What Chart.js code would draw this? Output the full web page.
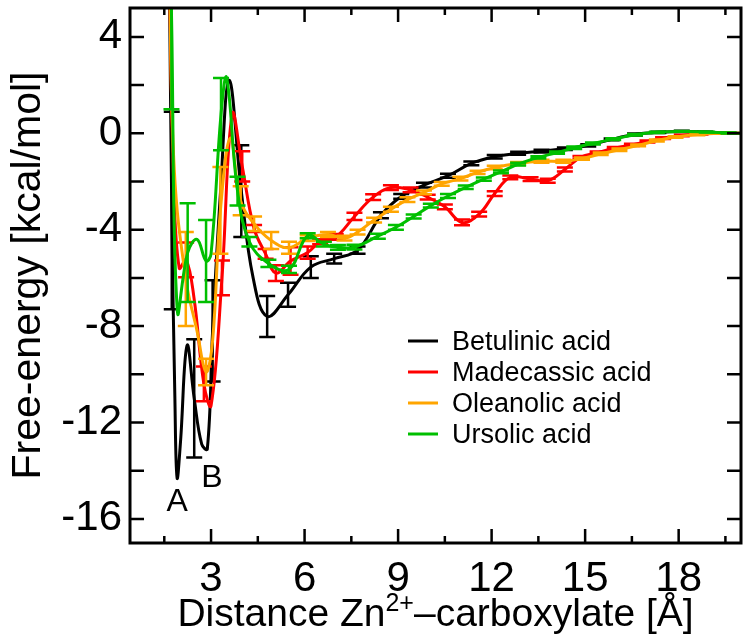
<!DOCTYPE html>
<html>
<head>
<meta charset="utf-8">
<script src="https://cdn.jsdelivr.net/npm/chart.js@4.4.0/dist/chart.umd.min.js"></script>
<style>
  body { margin: 0; background: #fff; }
  canvas { display: block; }
</style>
</head>
<body>
<canvas id="myChart" width="749" height="643"></canvas>
<script>
// series names and colours
var seriesNames = ['Betulinic acid', 'Madecassic acid', 'Oleanolic acid', 'Ursolic acid'];
var seriesColors = ['#000000', '#ff0000', '#ffa500', '#00bf00'];

// Betulinic acid (black)
var betX = [1.66, 1.74, 1.84, 1.91, 2.02, 2.23, 2.46, 2.7, 2.88, 3.05, 3.3, 3.58, 3.97, 4.35, 4.8, 5.47, 6.2, 6.95, 7.7, 8.45, 9.1, 9.83, 10.6, 11.35, 12.1, 12.85, 13.6, 14.35, 15.1, 15.85, 16.6, 17.35, 18.1, 18.85, 19.6, 20];
var betY = [7, -3.2, -11, -14.3, -12.8, -8.8, -11.0, -12.9, -13.1, -8.2, -2.5, 2.2, -2.4, -6.0, -7.6, -6.7, -5.55, -5.2, -4.85, -3.4, -2.62, -2.15, -1.76, -1.25, -0.97, -0.83, -0.74, -0.64, -0.5, -0.25, -0.05, 0.04, 0.08, 0.05, 0.01, 0];
var betE = [null, 4.1, null, null, null, null, 2.45, null, null, 2.1, null, null, 1.9, null, 0.85, 0.5, 0.45, 0.2, 0.15, 0.12, 0.1, 0.1, 0.08, 0.08, 0.07, 0.06, 0.06, 0.05, 0.05, 0.04, 0.04, 0.03, 0.03, 0.02, 0.02, null];

// Madecassic acid (red)
var madX = [1.66, 1.8, 1.98, 2.2, 2.45, 2.77, 3.0, 3.35, 3.68, 4.0, 4.38, 4.75, 5.08, 5.55, 6.1, 6.5, 7.0, 7.6, 8.2, 8.77, 9.4, 9.95, 10.5, 11.05, 11.6, 12.1, 12.6, 13.25, 13.8, 14.35, 14.85, 15.4, 15.95, 16.5, 17.0, 17.5, 18.1, 18.7, 19.3, 20];
var madY = [7, -2, -5.6, -5.25, -6.8, -10.4, -11.3, -6.0, 0.8, -1.37, -3.95, -5.0, -5.8, -5.3, -4.95, -4.5, -4.3, -3.45, -2.65, -2.25, -2.35, -2.65, -3.05, -3.7, -3.35, -2.5, -1.83, -1.9, -1.97, -1.5, -1.0, -0.8, -0.62, -0.48, -0.34, -0.2, -0.09, -0.03, 0.0, 0];
var madE = [null, null, null, 0.72, null, 0.72, null, 0.72, null, 0.63, 0.15, 0.2, 0.33, 0.57, 0.25, 0.1, 0.12, 0.15, 0.12, 0.1, 0.1, 0.1, 0.1, 0.12, 0.1, 0.1, 0.08, 0.08, 0.08, 0.08, 0.06, 0.05, 0.05, 0.05, 0.04, 0.04, 0.03, 0.02, 0.02, null];

// Oleanolic acid (orange)
var oleX = [1.66, 1.82, 2.19, 2.55, 2.84, 3.05, 3.3, 3.62, 3.95, 4.38, 4.93, 5.5, 6.1, 6.75, 7.28, 7.7, 8.23, 8.77, 9.3, 9.83, 10.4, 11.0, 11.55, 12.1, 12.85, 13.6, 14.3, 14.9, 15.5, 16.1, 16.7, 17.3, 17.9, 18.6, 19.3, 20];
var oleY = [7, -1.5, -6.05, -8.2, -9.9, -8.6, -3.2, -0.2, -2.8, -3.75, -4.45, -4.75, -4.35, -4.2, -4.35, -4.1, -3.6, -3.15, -2.75, -2.45, -2.1, -1.88, -1.62, -1.42, -1.25, -1.16, -1.16, -1.05, -0.85, -0.68, -0.5, -0.3, -0.15, -0.05, 0.0, 0];
var oleE = [null, null, 1.95, null, 0.55, null, 1.8, null, 0.6, 0.3, 0.35, 0.25, 0.12, 0.1, 0.1, 0.1, 0.1, 0.1, 0.1, 0.08, 0.08, 0.08, 0.07, 0.07, 0.06, 0.06, 0.06, 0.05, 0.05, 0.05, 0.04, 0.04, 0.03, 0.03, 0.02, null];

// Ursolic acid (green)
var ursX = [1.66, 1.73, 1.92, 2.25, 2.55, 2.84, 3.0, 3.32, 3.5, 3.85, 4.23, 4.84, 5.5, 6.1, 6.62, 7.07, 7.6, 8.35, 8.93, 9.5, 10.05, 10.6, 11.17, 11.75, 12.3, 12.85, 13.5, 14.1, 14.65, 15.25, 15.9, 16.6, 17.3, 18.1, 18.9, 19.6, 20];
var ursY = [9, 5.0, -7.4, -4.95, -4.4, -5.3, -5.0, 0.8, 2.3, -2.4, -4.5, -5.4, -5.65, -4.25, -4.6, -4.73, -4.72, -4.27, -3.9, -3.45, -3.0, -2.6, -2.24, -1.9, -1.6, -1.28, -1.0, -0.8, -0.6, -0.42, -0.24, -0.06, 0.04, 0.08, 0.05, 0.01, 0];
var ursE = [null, 4.0, null, 2.05, null, 1.7, null, 1.5, null, 0.6, 0.2, 0.15, 0.15, 0.1, 0.1, 0.1, 0.1, 0.1, 0.1, 0.08, 0.08, 0.08, 0.07, 0.07, 0.06, 0.06, 0.05, 0.05, 0.05, 0.04, 0.04, 0.03, 0.03, 0.02, 0.02, 0.02, null];

// axis ticks
var xMajor = [3, 6, 9, 12, 15, 18];
var xMinor = [1.5, 4.5, 7.5, 10.5, 13.5, 16.5, 19.5];
var yMajor = [-16, -14, -12, -10, -8, -6, -4, -2, 0, 2, 4];

// well labels
var wellText = ['A', 'B'];
var wellX = [1.91, 3.03];
var wellY = [-15.3, -14.3];

var allX = [betX, madX, oleX, ursX];
var allY = [betY, madY, oleY, ursY];
var allE = [betE, madE, oleE, ursE];

var FONT = '"Liberation Sans", Arial, Helvetica, sans-serif';

function makePoints(xs, ys) {
	var pts = [];
	for (var i = 0; i < xs.length; i++) {
		pts.push({x: xs[i], y: ys[i]});
	}
	return pts;
}

var datasets = [];
for (var k = 0; k < 4; k++) {
	datasets.push({
		label: seriesNames[k],
		data: makePoints(allX[k], allY[k]),
		borderColor: seriesColors[k],
		backgroundColor: seriesColors[k],
		borderWidth: 3,
		pointRadius: 0,
		tension: 0.4,
		fill: false,
		clip: 0,
		order: 4 - k
	});
}

const framePlugin = {
	id: 'frame',
	afterDatasetDraw(chart, args) {
		// error bars for this dataset
		var k = args.index;
		var ctx = chart.ctx;
		var a = chart.chartArea;
		var xs = chart.scales.x, ys = chart.scales.y;
		ctx.save();
		ctx.beginPath();
		ctx.rect(a.left, a.top, a.right - a.left, a.bottom - a.top);
		ctx.clip();
		ctx.strokeStyle = seriesColors[k];
		ctx.lineWidth = 2.5;
		for (var i = 0; i < allX[k].length; i++) {
			var e = allE[k][i];
			if (e == null) continue;
			var px = xs.getPixelForValue(allX[k][i]);
			var y1 = ys.getPixelForValue(allY[k][i] + e);
			var y2 = ys.getPixelForValue(allY[k][i] - e);
			ctx.beginPath();
			ctx.moveTo(px, y1); ctx.lineTo(px, y2);
			ctx.moveTo(px - 8, y1); ctx.lineTo(px + 8, y1);
			ctx.moveTo(px - 8, y2); ctx.lineTo(px + 8, y2);
			ctx.stroke();
		}
		ctx.restore();
	},
	afterDraw(chart) {
		var ctx = chart.ctx;
		var a = chart.chartArea;
		var xs = chart.scales.x, ys = chart.scales.y;
		ctx.save();
		ctx.strokeStyle = '#000';
		// inward ticks
		ctx.lineWidth = 2.5;
		ctx.beginPath();
		xMajor.forEach(function(v) {
			var p = xs.getPixelForValue(v);
			ctx.moveTo(p, a.bottom); ctx.lineTo(p, a.bottom - 14);
			ctx.moveTo(p, a.top); ctx.lineTo(p, a.top + 14);
		});
		xMinor.forEach(function(v) {
			var p = xs.getPixelForValue(v);
			ctx.moveTo(p, a.bottom); ctx.lineTo(p, a.bottom - 7);
			ctx.moveTo(p, a.top); ctx.lineTo(p, a.top + 7);
		});
		yMajor.forEach(function(v) {
			var p = ys.getPixelForValue(v);
			ctx.moveTo(a.left, p); ctx.lineTo(a.left + 14, p);
			ctx.moveTo(a.right, p); ctx.lineTo(a.right - 14, p);
		});
		ctx.stroke();
		// frame
		ctx.lineWidth = 3;
		ctx.strokeRect(a.left, a.top, a.right - a.left, a.bottom - a.top);

		// A / B labels
		ctx.fillStyle = '#000';
		ctx.font = '32px ' + FONT;
		ctx.textAlign = 'center';
		ctx.textBaseline = 'middle';
		for (var i = 0; i < wellText.length; i++) {
			ctx.fillText(wellText[i], xs.getPixelForValue(wellX[i]), ys.getPixelForValue(wellY[i]));
		}

		// legend
		ctx.font = '27px ' + FONT;
		ctx.textAlign = 'left';
		for (var k = 0; k < seriesNames.length; k++) {
			var ly = 343 + k * 31;
			ctx.strokeStyle = seriesColors[k];
			ctx.lineWidth = 3;
			ctx.beginPath();
			ctx.moveTo(408, ly - 2); ctx.lineTo(438, ly - 2);
			ctx.stroke();
			ctx.fillStyle = '#000';
			ctx.fillText(seriesNames[k], 452, ly);
		}

		// x axis title with superscript
		var big = '39px ' + FONT, small = '25px ' + FONT;
		var t1 = 'Distance Zn', t2 = '2+', t3 = '\u2013carboxylate [\u00c5]';
		ctx.font = big; var w1 = ctx.measureText(t1).width;
		var w3 = ctx.measureText(t3).width;
		ctx.font = small; var w2 = ctx.measureText(t2).width;
		var cx = (a.left + a.right) / 2;
		var x0 = cx - (w1 + w2 + w3) / 2;
		var base = 626;
		ctx.textBaseline = 'alphabetic';
		ctx.font = big; ctx.fillText(t1, x0, base);
		ctx.font = small; ctx.fillText(t2, x0 + w1, base - 15);
		ctx.font = big; ctx.fillText(t3, x0 + w1 + w2, base);
		ctx.restore();
	}
};

const ctx1 = document.getElementById('myChart');

new Chart(ctx1, {
	type: 'line',
	data: { datasets: datasets },
	options: {
		responsive: false,
		animation: false,
		devicePixelRatio: 1,
		layout: { padding: { top: 8, right: 8, left: 0, bottom: 0 } },
		plugins: {
			legend: { display: false },
			tooltip: { enabled: false }
		},
		scales: {
			x: {
				type: 'linear',
				min: 0.4,
				max: 20,
				grid: { display: false, drawTicks: false },
				border: { display: false },
				ticks: {
					stepSize: 1.5,
					autoSkip: false,
					includeBounds: false,
					maxRotation: 0,
					padding: 11,
					color: '#000',
					font: { size: 42, family: FONT },
					callback: function(v) {
						return (v > 0 && Math.abs(v % 3) < 1e-6) ? String(v) : '';
					}
				},
				afterFit: function(s) {
					s.height = 100;
					s.paddingLeft = 0;
					s.paddingRight = 0;
				}
			},
			y: {
				type: 'linear',
				min: -17,
				max: 5.2,
				grid: { display: false, drawTicks: false },
				border: { display: false },
				ticks: {
					stepSize: 2,
					autoSkip: false,
					includeBounds: false,
					padding: 8,
					color: '#000',
					font: { size: 42, family: FONT },
					callback: function(v) {
						return (Math.abs(v % 4) < 1e-6) ? String(v) : '';
					}
				},
				title: {
					display: true,
					text: 'Free-energy [kcal/mol]',
					color: '#000',
					font: { size: 41, family: FONT },
					padding: { top: 4, bottom: 0 }
				},
				afterFit: function(s) {
					s.width = 130;
					s.paddingTop = 0;
					s.paddingBottom = 0;
				}
			}
		}
	},
	plugins: [framePlugin]
});
</script>
</body>
</html>
